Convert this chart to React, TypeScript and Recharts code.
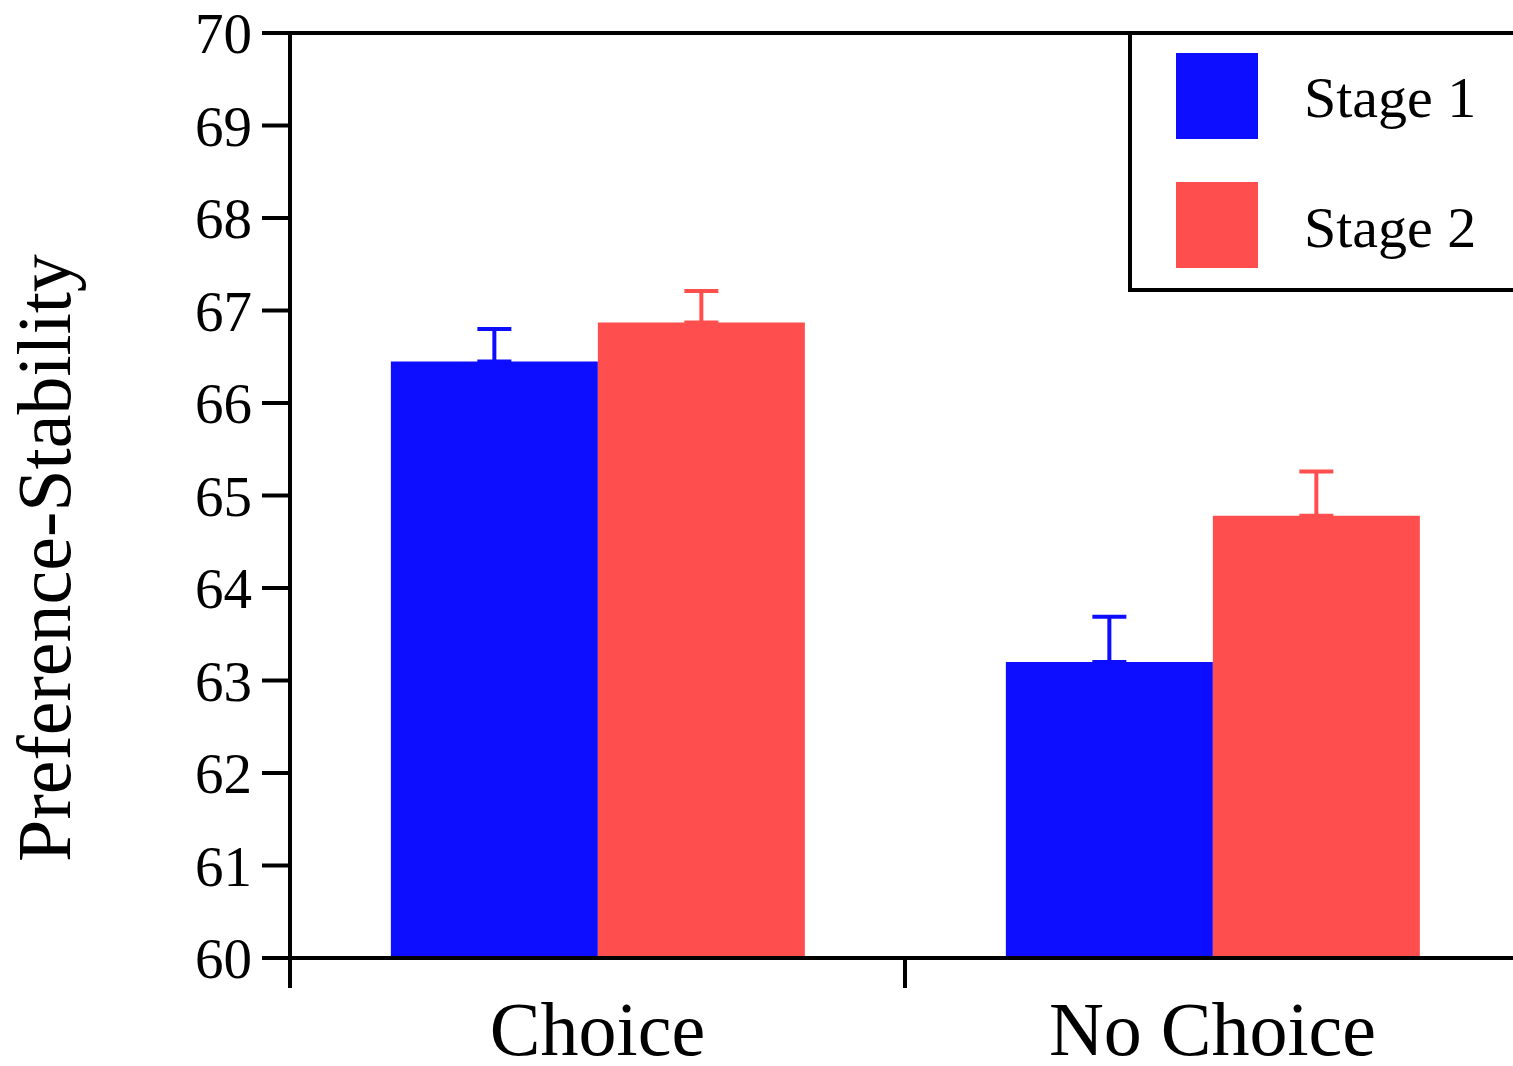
import React from "react";
import { Bar, BarChart, ErrorBar, Legend, ReferenceLine, XAxis, YAxis } from "recharts";

const categories = ["Choice", "No Choice"];
const stage1 = [66.45, 63.2];
const stage2 = [66.87, 64.78];
const stage1Err = [0.35, 0.49];
const stage2Err = [0.34, 0.48];
const yTicks = [60, 61, 62, 63, 64, 65, 66, 67, 68, 69, 70];
const seriesNames = ["Stage 1", "Stage 2"];

const blue = "#0d0dff";
const red = "#ff4e4e";
const font = "'Liberation Serif', 'Times New Roman', serif";

const data = categories.map((name, i) => ({
  name,
  s1: stage1[i],
  s2: stage2[i],
  e1: [0, stage1Err[i]],
  e2: [0, stage2Err[i]],
}));

function XTick(props: any) {
  const { x, y, payload, width, visibleTicksCount } = props;
  const half = payload.offset ?? width / visibleTicksCount / 2;
  const left = x - half;
  return (
    <g>
      <line x1={left} x2={left} y1={y - 30} y2={y} stroke="#000" strokeWidth={4} />
      <text x={x} y={y + 67} textAnchor="middle" fontSize={76} fontFamily={font} fill="#000">
        {payload.value}
      </text>
    </g>
  );
}

function LegendBox() {
  const colors = [blue, red];
  return (
    <svg width={420} height={265} style={{ display: "block" }}>
      <rect x={2} y={2} width={430} height={257} fill="#fff" stroke="#000" strokeWidth={4} />
      {seriesNames.map((s, i) => (
        <g key={s}>
          <rect x={48} y={22 + i * 129} width={82} height={86} fill={colors[i]} />
          <text x={176} y={86 + i * 130} fontSize={58} fontFamily={font} fill="#000">
            {s}
          </text>
        </g>
      ))}
    </svg>
  );
}

function YLabel() {
  return (
    <text
      x={70}
      y={558}
      transform="rotate(-90, 70, 558)"
      textAnchor="middle"
      fontSize={76}
      fontFamily={font}
      fill="#000"
    >
      Preference-Stability
    </text>
  );
}

export default function App() {
  return (
    <div style={{ position: "absolute", left: 0, top: 0, width: 1513, height: 1066, overflow: "hidden", background: "#fff" }}>
      <BarChart
        width={1530}
        height={1066}
        data={data}
        margin={{ top: 33, right: 10, left: 0, bottom: 0 }}
        barCategoryGap="16.4%"
        barGap={0}
      >
        <XAxis
          dataKey="name"
          height={108}
          axisLine={{ stroke: "#000", strokeWidth: 4 }}
          tickLine={false}
          tickSize={30}
          tickMargin={0}
          tick={<XTick />}
          interval={0}
        />
        <YAxis
          width={290}
          domain={[60, 70]}
          ticks={yTicks}
          interval={0}
          allowDataOverflow
          axisLine={{ stroke: "#000", strokeWidth: 4 }}
          tickLine={{ stroke: "#000", strokeWidth: 4 }}
          tickSize={28}
          tickMargin={10}
          tick={{ fill: "#000", fontSize: 57, fontFamily: font }}
          label={<YLabel />}
        />
        <ReferenceLine y={70} stroke="#000" strokeWidth={4} />
        <Legend
          verticalAlign="middle"
          align="center"
          layout="horizontal"
          wrapperStyle={{ top: 31, left: 1128, width: 420, height: 265 }}
          content={<LegendBox />}
        />
        <Bar dataKey="s1" name={seriesNames[0]} fill={blue} isAnimationActive={false}>
          <ErrorBar dataKey="e1" width={17} stroke={blue} strokeWidth={4} direction="y" isAnimationActive={false} />
        </Bar>
        <Bar dataKey="s2" name={seriesNames[1]} fill={red} isAnimationActive={false}>
          <ErrorBar dataKey="e2" width={17} stroke={red} strokeWidth={4} direction="y" isAnimationActive={false} />
        </Bar>
      </BarChart>
    </div>
  );
}
